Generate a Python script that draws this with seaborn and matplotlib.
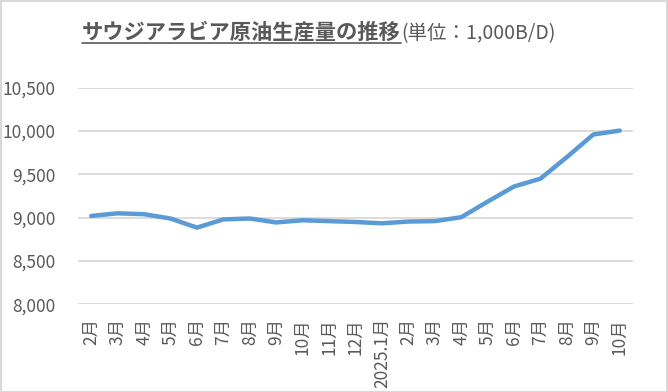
import matplotlib
matplotlib.use("Agg")
import matplotlib.pyplot as plt
import seaborn as sns
import pandas as pd
from matplotlib.lines import Line2D
from matplotlib.patches import Rectangle

# data
months = ["2月", "3月", "4月", "5月", "6月", "7月", "8月", "9月", "10月", "11月", "12月",
          "2025.1月", "2月", "3月", "4月", "5月", "6月", "7月", "8月", "9月", "10月"]
production = [9020, 9050, 9040, 8990, 8885, 8980, 8990, 8945, 8970, 8960, 8950,
              8935, 8955, 8960, 9005, 9185, 9360, 9450, 9700, 9960, 10005]
yticks = [8000, 8500, 9000, 9500, 10000, 10500]

sns.set_theme(style="white")
plt.rcParams["font.family"] = ["Noto Sans CJK JP", "DejaVu Sans"]

W, H = 668, 392
fig = plt.figure(figsize=(W / 100, H / 100), dpi=100)
ax = fig.add_axes([78 / W, (H - 304.3) / H, (633 - 78) / W, (304.3 - 87.7) / H])

df = pd.DataFrame({"pos": range(len(months)), "val": production})
sns.lineplot(data=df, x="pos", y="val", ax=ax, color="#5B9BD5", linewidth=3.2,
             sort=False, solid_capstyle="round", solid_joinstyle="round")

ax.set_xlim(-0.5, len(months) - 0.5)
ax.set_ylim(yticks[0], yticks[-1])
ax.set_yticks(yticks)
ax.set_yticklabels([f"{v:,}" for v in yticks], fontsize=12.5, color="#595959")
ax.set_xticks(range(len(months)))
ax.set_xticklabels(months, rotation=90, fontsize=12.5, color="#595959")
ax.tick_params(axis="y", length=0, pad=16)
ax.tick_params(axis="x", length=0, pad=10)
ax.set_xlabel("")
ax.set_ylabel("")
ax.grid(axis="y", color="#d9d9d9", linewidth=1.3)
ax.set_axisbelow(True)
for s in ax.spines.values():
    s.set_visible(False)

# chart frame
fig.add_artist(Rectangle((0.5 / W, 0.5 / H), 1 - 1.5 / W, 1 - 1.5 / H,
                         transform=fig.transFigure, fill=False,
                         edgecolor="#d9d9d9", linewidth=1.5))

# title with underlined main part
t1 = fig.text(82 / W, 1 - 39 / H, "サウジアラビア原油生産量の推移", fontsize=15.3,
              fontweight="bold", color="#595959", va="baseline", ha="left")
fig.canvas.draw()
bb = t1.get_window_extent()
fig.text(bb.x1 / W, 1 - 39 / H, "(単位：1,000B/D)", fontsize=14,
         color="#595959", va="baseline", ha="left")
uy = 1 - 42.5 / H
fig.add_artist(Line2D([bb.x0 / W, bb.x1 / W], [uy, uy], transform=fig.transFigure,
                      color="#595959", linewidth=1.2))

fig.savefig("out.png", dpi=100)
